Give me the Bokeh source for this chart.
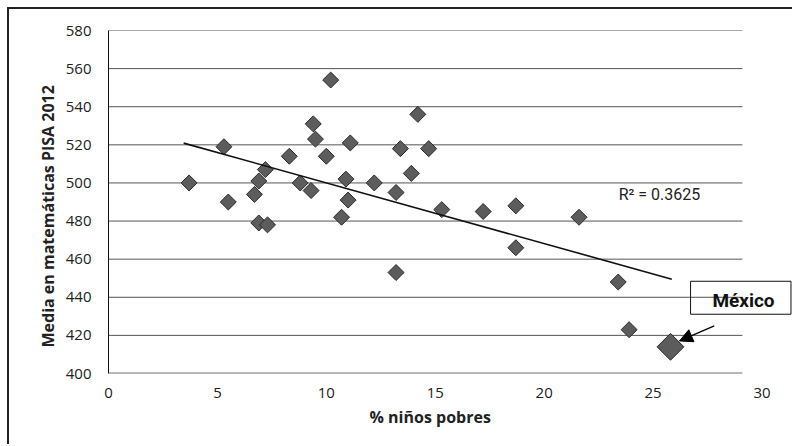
import numpy as np
from bokeh.plotting import figure
from bokeh.models import (Range1d, FixedTicker, Label, BoxAnnotation, Arrow, NormalHead, Title)
from bokeh.embed import file_html
from bokeh.resources import INLINE

# ---- data ----
pct_poor = [3.7, 5.3, 5.5, 6.7, 6.9, 7.2, 6.9, 7.3, 8.3, 8.8, 9.3, 9.4, 9.5, 10.0,
            10.2, 10.7, 10.9, 11.0, 11.1, 12.2, 13.2, 13.2, 13.4, 13.9, 14.2, 14.7,
            15.3, 17.2, 18.7, 18.7, 21.6, 23.4, 23.9]
math_mean = [500, 519, 490, 494, 501, 507, 479, 478, 514, 500, 496, 531, 523, 514,
             554, 482, 502, 491, 521, 500, 495, 453, 518, 505, 536, 518,
             486, 485, 488, 466, 482, 448, 423]
mexico_x = [25.8]
mexico_y = [414]

trend_x = [3.45, 25.86]
trend_slope = -3.186
trend_intercept = 531.89
r2_text = "R² = 0.3625"

x_ticks = [0, 5, 10, 15, 20, 25, 30]
y_ticks = [400, 420, 440, 460, 480, 500, 520, 540, 560, 580]
grid_x_end = 29.1

p = figure(width=785, height=437, output_backend="svg", toolbar_location=None,
           x_range=Range1d(0, 31.4), y_range=Range1d(400, 580),
           min_border_left=99, min_border_right=2, min_border_top=21, min_border_bottom=73)
p.styles = {"border-top": "2px solid #222222", "border-left": "2px solid #222222",
            "margin-left": "7px", "margin-top": "7px"}
p.outline_line_color = None
p.background_fill_color = "white"
p.border_fill_color = "white"
p.xgrid.visible = False
p.ygrid.visible = False

# axes
p.xaxis.ticker = FixedTicker(ticks=x_ticks)
p.yaxis.ticker = FixedTicker(ticks=y_ticks)
for ax in (p.xaxis[0], p.yaxis[0]):
    ax.major_tick_out = 0
    ax.major_tick_in = 0
    ax.minor_tick_out = 0
    ax.minor_tick_in = 0
    ax.major_label_text_font = "Open Sans"
    ax.major_label_text_font_size = "15px"
    ax.major_label_text_color = "#222222"
p.xaxis.axis_line_color = None
p.xaxis.major_label_standoff = 14
p.yaxis.axis_line_color = "#111111"
p.yaxis.axis_line_width = 1
p.yaxis.major_label_standoff = 17

# gridlines (stop before the right end like the reference)
gy = [v for v in y_ticks if v != y_ticks[0]]
p.segment(x0=[x_ticks[0]] * len(gy), x1=[grid_x_end] * len(gy), y0=gy, y1=gy,
          line_color="#555555", line_width=1)
p.segment(x0=[x_ticks[0]], x1=[grid_x_end], y0=[y_ticks[0]], y1=[y_ticks[0]],
          line_color="#707070", line_width=2.2)

# points
p.scatter(pct_poor, math_mean, marker="square", angle=np.pi / 4, size=11.3,
          fill_color="#5c5c5c", line_color="#2a2a2a", line_width=1)
p.scatter(mexico_x, mexico_y, marker="square", angle=np.pi / 4, size=19,
          fill_color="#5c5c5c", line_color="#2a2a2a", line_width=1)

# trend line
ty = [trend_intercept + trend_slope * v for v in trend_x]
p.line(trend_x, ty, line_color="#111111", line_width=1.6)

# texts
p.add_layout(Label(x=23.42, y=493.8, text=r2_text, text_font="Roboto",
                   text_font_size="16px", text_color="#222222", text_baseline="alphabetic"))
p.add_layout(BoxAnnotation(left=26.72, right=31.33, top=448.4, bottom=431.1,
                           fill_alpha=0, line_color="#111111", line_width=1, line_alpha=1))
p.add_layout(Label(x=29.15, y=438.1, text="México", text_font="Roboto",
                   text_font_style="bold", text_font_size="19px", text_color="#111111",
                   text_align="center", text_baseline="alphabetic"))
p.add_layout(Arrow(end=NormalHead(size=13, fill_color="black", line_color="black"),
                   x_start=27.81, y_start=425.0, x_end=26.21, y_end=417.1,
                   line_color="black", line_width=1.2))

p.add_layout(Title(text="% niños pobres", align="left", offset=261, standoff=6,
                   text_font="Open Sans", text_font_style="bold", text_font_size="16px",
                   text_color="#222222"), "below")
p.add_layout(Title(text="Media  en matemáticas PISA 2012", align="left", offset=26, standoff=8,
                   text_font="Open Sans", text_font_style="bold", text_font_size="16px",
                   text_color="#222222"), "left")

open("out.html", "w").write(file_html(p, INLINE))
